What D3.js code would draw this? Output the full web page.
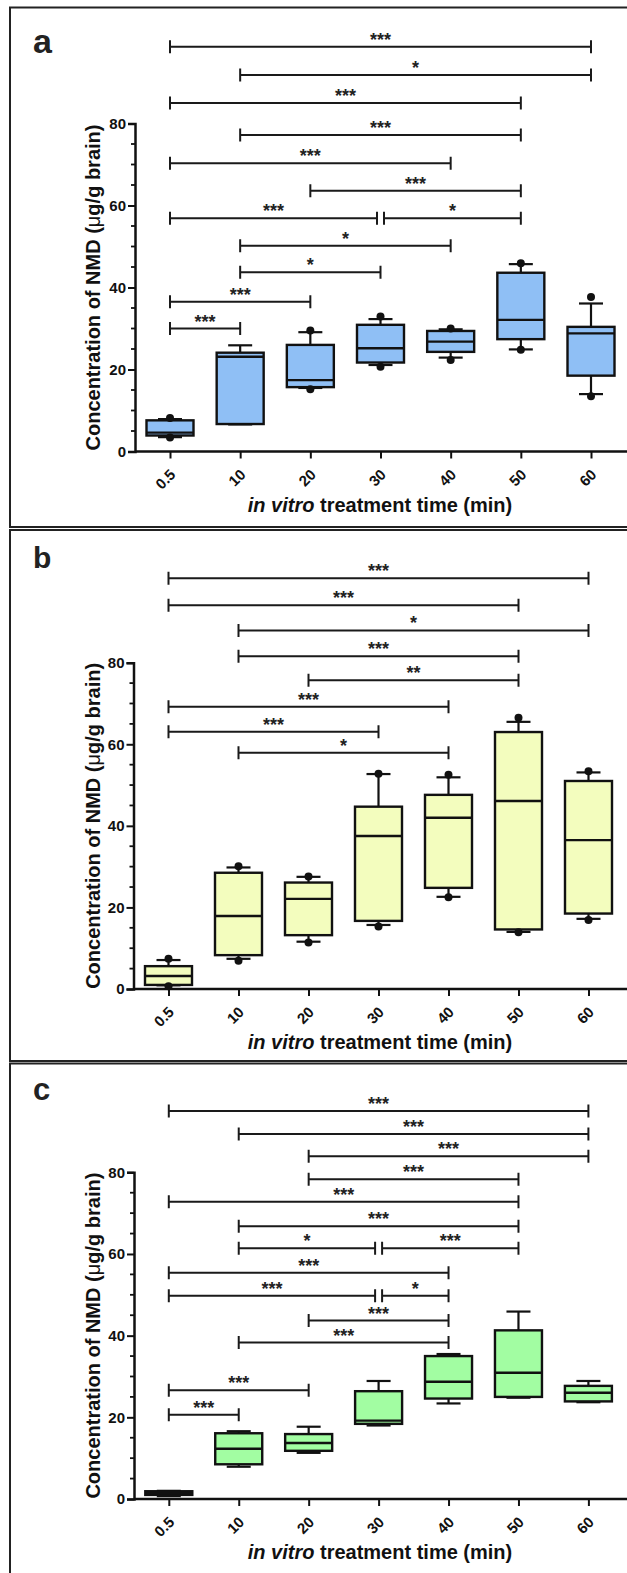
<!DOCTYPE html>
<html>
<head>
<meta charset="utf-8">
<script src="https://cdn.jsdelivr.net/npm/d3@7"></script>
<style>
  html, body { margin: 0; padding: 0; background: #fff; }
  svg { display: block; }
  text { font-family: Arial, "Liberation Sans", Helvetica, sans-serif; }
</style>
</head>
<body>
<script>
// ---------- DATA ----------
const categories = ["0.5", "10", "20", "30", "40", "50", "60"];
const yTickValues = [0, 20, 40, 60, 80];
const yTitle = "Concentration of NMD (";
const xTitleItalic = "in vitro";
const xTitleRest = " treatment time (min)";

// Panel a (blue)
const aWhiskerLow  = [3.5, 6.6, 15.5, 21.1, 22.9, 24.9, 14.0];
const aQ1          = [3.9, 6.7, 15.7, 21.7, 24.3, 27.4, 18.5];
const aMedian      = [4.6, 23.1, 17.4, 25.2, 26.8, 32.1, 28.8];
const aQ3          = [7.6, 24.1, 26.0, 30.9, 29.4, 43.6, 30.4];
const aWhiskerHigh = [7.9, 25.9, 29.1, 32.3, 29.8, 45.7, 36.1];
const aDotHigh     = [8.2, null, 29.5, 32.9, 30.0, 45.9, 37.7];
const aDotLow      = [3.4, null, 15.2, 20.7, 22.3, 24.8, 13.5];
const aBrFrom  = [0, 1, 0, 1, 0, 2, 0, 3, 1, 1, 0, 0];
const aBrTo    = [6, 6, 5, 5, 4, 5, 3, 5, 4, 3, 2, 1];
const aBrLevel = [98.7, 91.8, 85.0, 77.2, 70.3, 63.6, 56.9, 56.9, 50.2, 43.7, 36.5, 30.0];
const aBrLabel = ["***", "*", "***", "***", "***", "***", "***", "*", "*", "*", "***", "***"];

// Panel b (yellow)
const bWhiskerLow  = [0.9, 7.4, 11.6, 15.7, 22.6, 14.0, 17.2];
const bQ1          = [1.0, 8.3, 13.2, 16.7, 24.8, 14.6, 18.5];
const bMedian      = [3.2, 17.9, 22.1, 37.5, 42.0, 46.1, 36.5];
const bQ3          = [5.6, 28.5, 26.1, 44.7, 47.6, 63.0, 51.0];
const bWhiskerHigh = [7.1, 29.8, 27.5, 52.7, 51.9, 65.5, 53.1];
const bDotHigh     = [7.4, 30.1, 27.6, 52.8, 52.5, 66.5, 53.4];
const bDotLow      = [0.7, 6.9, 11.4, 15.3, 22.5, 13.9, 16.9];
const bBrFrom  = [0, 0, 1, 1, 2, 0, 0, 1];
const bBrTo    = [6, 5, 6, 5, 5, 4, 3, 4];
const bBrLevel = [100.7, 94.1, 87.9, 81.6, 75.7, 69.2, 63.1, 57.9];
const bBrLabel = ["***", "***", "*", "***", "**", "***", "***", "*"];

// Panel c (green)
const cWhiskerLow  = [0.7, 7.9, 11.3, 18.0, 23.4, 24.8, 23.7];
const cQ1          = [1.0, 8.5, 11.8, 18.4, 24.6, 25.0, 23.9];
const cMedian      = [1.4, 12.3, 13.7, 19.2, 28.7, 30.9, 26.0];
const cQ3          = [1.9, 16.1, 15.9, 26.4, 35.0, 41.3, 27.7];
const cWhiskerHigh = [2.0, 16.6, 17.7, 28.9, 35.5, 45.9, 28.9];
const cDotHigh     = [null, null, null, null, null, null, null];
const cDotLow      = [null, null, null, null, null, null, null];
const cBrFrom  = [0, 1, 2, 2, 0, 1, 1, 3, 0, 0, 3, 2, 1, 0, 0];
const cBrTo    = [6, 6, 6, 5, 5, 5, 3, 5, 4, 3, 4, 4, 4, 2, 1];
const cBrLevel = [95.0, 89.4, 83.9, 78.3, 72.8, 66.8, 61.4, 61.4, 55.4, 49.8, 49.8, 43.7, 38.3, 26.6, 20.6];
const cBrLabel = ["***", "***", "***", "***", "***", "***", "*", "***", "***", "***", "*", "***", "***", "***", "***"];

// ---------- LAYOUT ----------
const W = 627, H = 1573;
const svg = d3.select("body").append("svg").attr("width", W).attr("height", H);

const panels = [
  { letter: "a", fill: "#8fbff5", frameTop: 7.5, frameBottom: 527, letterY: 52.5, letterSize: 34,
    y0: 451.5, y80: 123.5, xFirst: 170, xLast: 591, axisX: 135,
    lo: aWhiskerLow, q1: aQ1, med: aMedian, q3: aQ3, hi: aWhiskerHigh, dHi: aDotHigh, dLo: aDotLow,
    bf: aBrFrom, bt: aBrTo, bl: aBrLevel, bs: aBrLabel },
  { letter: "b", fill: "#f3fdbe", frameTop: 530, frameBottom: 1061, letterY: 567.5, letterSize: 30,
    y0: 989, y80: 662.7, xFirst: 168.5, xLast: 588.5, axisX: 133.5,
    lo: bWhiskerLow, q1: bQ1, med: bMedian, q3: bQ3, hi: bWhiskerHigh, dHi: bDotHigh, dLo: bDotLow,
    bf: bBrFrom, bt: bBrTo, bl: bBrLevel, bs: bBrLabel },
  { letter: "c", fill: "#a2fda2", frameTop: 1063.5, frameBottom: 1600, letterY: 1100, letterSize: 31,
    y0: 1499, y80: 1172.3, xFirst: 168.8, xLast: 588.4, axisX: 134,
    lo: cWhiskerLow, q1: cQ1, med: cMedian, q3: cQ3, hi: cWhiskerHigh, dHi: cDotHigh, dLo: cDotLow,
    bf: cBrFrom, bt: cBrTo, bl: cBrLevel, bs: cBrLabel }
];

const ink = "#111";
const boxHalf = 23.5, capHalf = 12;

panels.forEach(p => {
  const g = svg.append("g");
  // frame
  g.append("rect")
    .attr("x", 10).attr("y", p.frameTop)
    .attr("width", 640).attr("height", p.frameBottom - p.frameTop)
    .attr("fill", "none").attr("stroke", "#222").attr("stroke-width", 2);

  g.append("text").attr("x", 33).attr("y", p.letterY)
    .attr("font-size", p.letterSize).attr("font-weight", "bold").attr("fill", "#222")
    .text(p.letter);

  const x = d3.scalePoint().domain(categories).range([p.xFirst, p.xLast]);
  const y = d3.scaleLinear().domain([0, 80]).range([p.y0, p.y80]);

  // y axis
  const yAxis = d3.axisLeft(y).tickValues(yTickValues).tickSize(7).tickPadding(2).tickFormat(d3.format("d"));
  const ya = g.append("g").attr("transform", `translate(${p.axisX},0)`).call(yAxis);
  ya.select(".domain").attr("stroke", ink).attr("stroke-width", 2.5);
  ya.selectAll(".tick line").attr("stroke", ink).attr("stroke-width", 2);
  ya.selectAll(".tick text").attr("font-size", 15).attr("font-weight", "bold").attr("fill", ink)
    .attr("font-family", "Arial, 'Liberation Sans', sans-serif");
  const minor = d3.range(0, 81, 5).filter(v => v % 20 !== 0);
  g.append("g").selectAll("line").data(minor).join("line")
    .attr("x1", p.axisX - 4).attr("x2", p.axisX)
    .attr("y1", d => y(d)).attr("y2", d => y(d))
    .attr("stroke", ink).attr("stroke-width", 1.8);

  // x axis
  const xAxis = d3.axisBottom(x).tickSize(7).tickSizeOuter(0);
  const xa = g.append("g").attr("transform", `translate(0,${p.y0})`).call(xAxis);
  xa.select(".domain").attr("d", `M${p.axisX},0H627`).attr("stroke", ink).attr("stroke-width", 2.5);
  xa.selectAll(".tick line").attr("stroke", ink).attr("stroke-width", 2);
  xa.selectAll(".tick text")
    .attr("font-size", 15).attr("font-weight", "bold").attr("fill", ink)
    .attr("font-family", "Arial, 'Liberation Sans', sans-serif")
    .attr("text-anchor", "end").attr("dy", null).attr("y", 0)
    .attr("transform", "translate(6,24) rotate(-45)");

  // y title
  const yt = g.append("text")
    .attr("transform", `translate(99.5,${(p.y0 + p.y80) / 2}) rotate(-90)`)
    .attr("text-anchor", "middle").attr("font-size", 20).attr("font-weight", "bold").attr("fill", ink);
  yt.append("tspan").text(yTitle);
  yt.append("tspan").attr("font-weight", "normal").text("\u03bc");
  yt.append("tspan").text("g/g brain)");

  // x title
  const xt = g.append("text")
    .attr("x", 380).attr("y", p.y0 + 60)
    .attr("text-anchor", "middle").attr("font-size", 20).attr("font-weight", "bold").attr("fill", ink);
  xt.append("tspan").attr("font-style", "italic").text(xTitleItalic);
  xt.append("tspan").text(xTitleRest);

  // boxes
  const idx = d3.range(categories.length);
  const bx = g.append("g");
  idx.forEach(i => {
    const cx = x(categories[i]);
    const gg = bx.append("g");
    gg.append("line").attr("x1", cx).attr("x2", cx).attr("y1", y(p.q3[i])).attr("y2", y(p.hi[i]))
      .attr("stroke", ink).attr("stroke-width", 2.2);
    gg.append("line").attr("x1", cx).attr("x2", cx).attr("y1", y(p.q1[i])).attr("y2", y(p.lo[i]))
      .attr("stroke", ink).attr("stroke-width", 2.2);
    [p.hi[i], p.lo[i]].forEach(v => {
      gg.append("line").attr("x1", cx - capHalf).attr("x2", cx + capHalf).attr("y1", y(v)).attr("y2", y(v))
        .attr("stroke", ink).attr("stroke-width", 2.2);
    });
    gg.append("rect").attr("x", cx - boxHalf).attr("width", boxHalf * 2)
      .attr("y", y(p.q3[i])).attr("height", y(p.q1[i]) - y(p.q3[i]))
      .attr("fill", p.fill).attr("stroke", ink).attr("stroke-width", 2.4);
    gg.append("line").attr("x1", cx - boxHalf).attr("x2", cx + boxHalf)
      .attr("y1", y(p.med[i])).attr("y2", y(p.med[i]))
      .attr("stroke", ink).attr("stroke-width", 2.4);
    [p.dHi[i], p.dLo[i]].forEach(v => {
      if (v !== null) gg.append("circle").attr("cx", cx).attr("cy", y(v)).attr("r", 4).attr("fill", ink);
    });
  });

  // significance brackets
  const br = g.append("g");
  p.bf.forEach((f, k) => {
    const t = p.bt[k], lvl = p.bl[k];
    let x1 = x(categories[f]), x2 = x(categories[t]);
    // small gap where two brackets meet on the same level
    p.bf.forEach((f2, j) => {
      if (j === k || Math.abs(p.bl[j] - lvl) > 0.01) return;
      if (p.bt[j] === f) x1 += 3.5;
      if (f2 === t) x2 -= 3.5;
    });
    const yy = y(lvl);
    br.append("path")
      .attr("d", `M${x1},${yy - 6.5}V${yy + 6.5}M${x1},${yy}H${x2}M${x2},${yy - 6.5}V${yy + 6.5}`)
      .attr("fill", "none").attr("stroke", "#1a1a1a").attr("stroke-width", 2);
    br.append("text").attr("x", (x1 + x2) / 2).attr("y", yy - 1)
      .attr("text-anchor", "middle").attr("font-size", 18).attr("font-weight", "bold").attr("fill", "#222")
      .text(p.bs[k]);
  });
});
</script>
</body>
</html>
